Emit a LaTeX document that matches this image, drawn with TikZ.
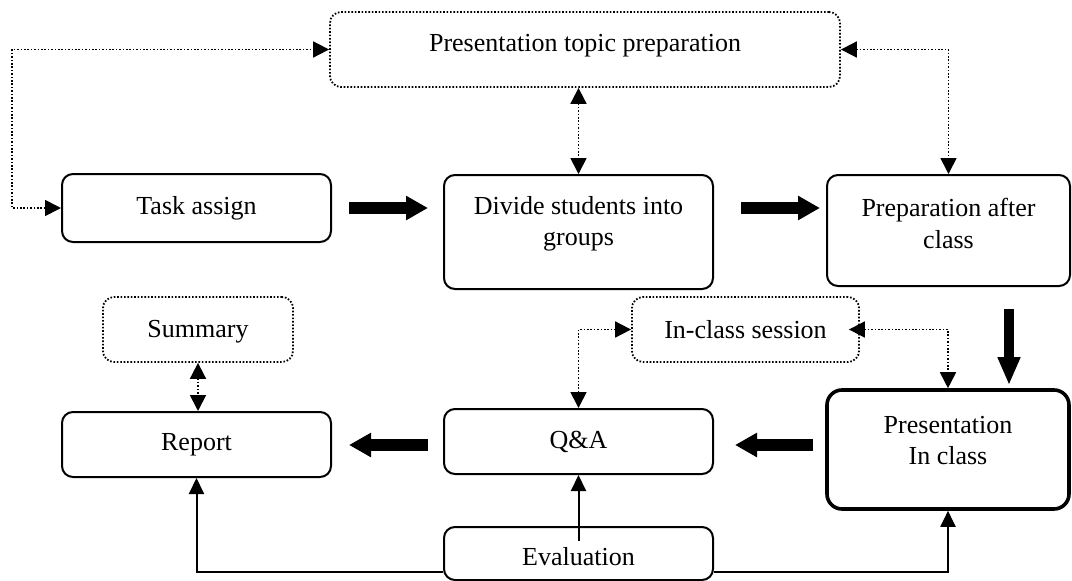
\documentclass[tikz,border=0pt]{standalone}
\usepackage{fontspec}
\setmainfont{Liberation Serif}
\usetikzlibrary{arrows.meta,calc}
\tikzset{
  box/.style={draw, line width=2pt, rounded corners=11pt, inner sep=0pt},
  thickbox/.style={draw, line width=3.6pt, rounded corners=15pt, inner sep=0pt},
  dotbox/.style={draw, line width=1.8pt, dash pattern=on 1.6pt off 1.8pt, rounded corners=11pt, inner sep=0pt},
  txt/.style={font=\fontsize{26}{31.5}\selectfont, align=center, inner sep=0pt},
  dotarr/.style={line width=1.8pt, dash pattern=on 1.6pt off 1.8pt,
    {Triangle[length=16pt,width=16pt]}-{Triangle[length=16pt,width=16pt]}},
  solarr/.style={line width=2pt, -{Triangle[length=16pt,width=15pt]}},
  big/.style={line width=11.5pt, -{Triangle[length=22pt,width=23pt]}},
  bigv/.style={line width=10pt, -{Triangle[length=28pt,width=21pt]}},
}
\begin{document}
\begin{tikzpicture}[x=1pt,y=-1pt]
\useasboundingbox (0,0) rectangle (1072,581);

% boxes
\node[dotbox, minimum width=510pt, minimum height=75pt,
  label={[txt,yshift=4pt]center:Presentation topic preparation}] (topic) at (585,49.5) {};
\node[box, minimum width=269pt, minimum height=68pt,
  label={[txt]center:Task assign}] (task) at (196.5,208) {};
\node[box, minimum width=269pt, minimum height=114pt,
  label={[txt,yshift=8pt]center:{Divide students into\\groups}}] (divide) at (578.5,232) {};
\node[box, minimum width=243pt, minimum height=111pt,
  label={[txt,yshift=7pt]center:{Preparation after\\class}}] (prep) at (948.5,230.5) {};
\node[dotbox, minimum width=190pt, minimum height=65pt,
  label={[txt,yshift=-2pt]center:Summary}] (summary) at (198,329.5) {};
\node[dotbox, minimum width=227pt, minimum height=65pt,
  label={[txt]center:In-class session}] (inclass) at (745.5,329.5) {};
\node[box, minimum width=269pt, minimum height=65pt,
  label={[txt]center:Report}] (report) at (196.5,444.5) {};
\node[box, minimum width=269pt, minimum height=65pt,
  label={[txt]center:Q\&A}] (qa) at (578.5,441.5) {};
\node[thickbox, minimum width=242pt, minimum height=119pt,
  label={[txt,yshift=9pt]center:{Presentation\\In class}}] (pres) at (948,449.5) {};
\node[box, minimum width=269pt, minimum height=53pt,
  label={[txt,yshift=-3pt]center:Evaluation}] (eval) at (578.5,553.5) {};

% helper coordinates
\coordinate (c1) at (12,208);
\coordinate (qaR) at ([yshift=-3.5pt]qa.east);
\coordinate (qaL) at ([yshift=-3.5pt]qa.west);

% dotted two-way connectors
\draw[dotarr] (task.west) -- (c1) |- (topic.west);
\draw[dotarr] (divide.north |- topic.south) -- (divide.north);
\draw[dotarr] (topic.east) -| (prep.north);
\draw[dotarr] (summary.south) -- (summary.south |- report.north);
\draw[dotarr] (qa.north) |- (inclass.west);
\draw[dotarr] ([xshift=-11pt]inclass.east) -| (pres.north);

% solid connectors from evaluation
\draw[solarr] ([yshift=-15pt]eval.north) -- (qa.south);
\draw[solarr] ([yshift=-18.5pt]eval.west) -| (report.south);
\draw[solarr] ([yshift=-18.5pt]eval.east) -| (pres.south);

% thick flow arrows
\draw[big, shorten <=17pt, shorten >=15pt] (task.east) -- (task.east -| divide.west);
\draw[big, shorten <=27pt, shorten >=6pt] (divide.east |- task.east) -- (prep.west |- task.east);
\draw[bigv, shorten <=22pt, shorten >=3pt] ([xshift=60.5pt]prep.south) -- ([xshift=60.5pt]prep.south |- pres.north);
\draw[big, shorten <=12pt, shorten >=21pt] (pres.west |- qaR) -- (qaR);
\draw[big, shorten <=15pt, shorten >=17pt] (qaL) -- (qaL -| report.east);
\end{tikzpicture}
\end{document}
